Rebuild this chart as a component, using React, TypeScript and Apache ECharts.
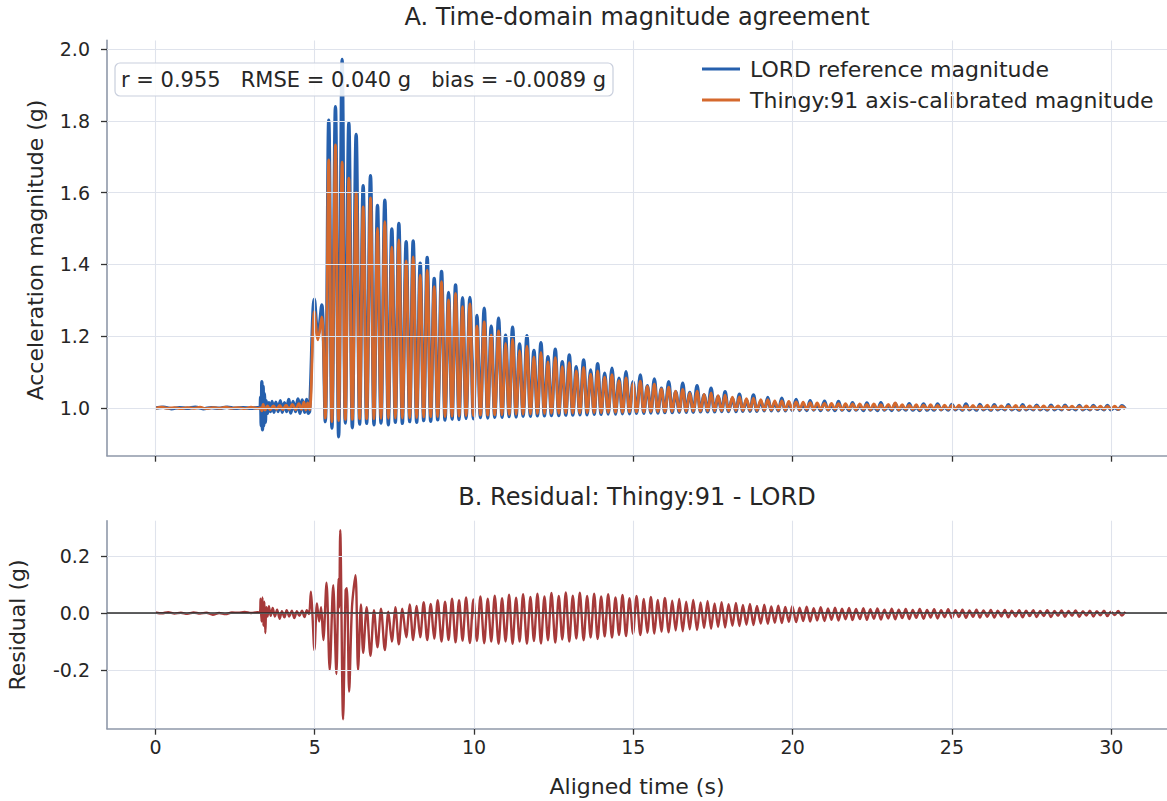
import React, { useEffect, useRef } from "react";
import * as echarts from "echarts";

// ---------------- data ----------------
const xTicks = [0, 5, 10, 15, 20, 25, 30];
const topTicks = [1.0, 1.2, 1.4, 1.6, 1.8, 2.0];
const botTicks = [-0.2, 0.0, 0.2];

const seriesNames = ["LORD reference magnitude", "Thingy:91 axis-calibrated magnitude"];
const statsText = "r = 0.955   RMSE = 0.040 g   bias = -0.0089 g";

// quiet period + first disturbance (t, g)
const lordPre: number[][] = [
  [0, 1.0], [0.25, 1.002], [0.5, 0.998], [0.75, 1.001], [1.0, 0.999], [1.25, 1.002], [1.5, 0.998],
  [1.75, 1.001], [2.0, 0.999], [2.25, 1.002], [2.5, 0.999], [2.75, 1.001], [3.0, 0.999], [3.2, 1.001],
  [3.28, 1.0], [3.3, 1.03], [3.32, 0.95], [3.34, 1.073], [3.36, 0.939], [3.38, 1.06], [3.4, 0.95],
  [3.42, 1.04], [3.45, 0.96], [3.48, 1.02], [3.52, 0.985], [3.56, 1.015], [3.61, 0.99], [3.66, 1.018],
  [3.72, 0.988], [3.78, 1.016], [3.85, 0.99], [3.92, 1.02], [3.98, 0.988], [4.05, 1.015], [4.12, 0.99],
  [4.18, 1.024], [4.25, 0.986], [4.32, 1.018], [4.4, 0.99], [4.47, 1.025], [4.54, 0.985], [4.61, 1.022],
  [4.68, 0.988], [4.74, 1.024], [4.8, 0.985], [4.84, 0.992],
];
const thingyPre: number[][] = [
  [0, 0.999], [0.2, 1.002], [0.4, 0.999], [0.6, 1.001], [0.8, 0.998], [1.0, 1.001], [1.2, 0.999],
  [1.4, 1.002], [1.6, 0.998], [1.8, 1.001], [2.0, 0.999], [2.2, 1.002], [2.4, 0.999], [2.6, 1.001],
  [2.8, 0.998], [3.0, 1.002], [3.2, 0.999], [3.3, 1.0], [3.34, 0.992], [3.38, 1.01], [3.44, 0.994],
  [3.52, 1.006], [3.6, 0.995], [3.7, 1.006], [3.8, 0.996], [3.9, 1.007], [4.0, 0.995], [4.1, 1.008],
  [4.2, 0.996], [4.3, 1.01], [4.4, 0.995], [4.5, 1.012], [4.58, 0.996], [4.66, 1.016], [4.72, 0.994],
  [4.78, 1.014], [4.84, 0.995],
];

// oscillation: times of the maxima and minima (s)
const peakTimes = [
  4.99, 5.22, 5.44, 5.65, 5.86, 6.07, 6.3, 6.52, 6.75, 6.97,
  7.2, 7.42, 7.64, 7.87, 8.09, 8.31, 8.53, 8.75, 8.98, 9.2,
  9.42, 9.64, 9.87, 10.09, 10.32, 10.54, 10.77, 10.99, 11.21, 11.43,
  11.66, 11.88, 12.1, 12.32, 12.55, 12.77, 12.99, 13.21, 13.44, 13.66,
  13.88, 14.1, 14.33, 14.55, 14.77, 14.99, 15.22, 15.44, 15.66, 15.88,
  16.11, 16.33, 16.55, 16.77, 17.0, 17.22, 17.44, 17.66, 17.88, 18.11,
  18.33, 18.55, 18.77, 19.0, 19.22, 19.44, 19.66, 19.88, 20.11, 20.33,
  20.55, 20.77, 21.0, 21.22, 21.44, 21.66, 21.88, 22.11, 22.33, 22.55,
  22.77, 23.0, 23.22, 23.44, 23.66, 23.88, 24.11, 24.33, 24.55, 24.77,
  25.0, 25.22, 25.44, 25.66, 25.88, 26.11, 26.33, 26.55, 26.77, 27.0,
  27.22, 27.44, 27.66, 27.88, 28.11, 28.33, 28.55, 28.77, 29.0, 29.22,
  29.44, 29.66, 29.88, 30.11, 30.33,
];
const troughTimes = [
  5.1, 5.33, 5.54, 5.75, 5.96, 6.18, 6.41, 6.63, 6.86, 7.08,
  7.31, 7.53, 7.75, 7.98, 8.2, 8.42, 8.64, 8.86, 9.09, 9.31,
  9.53, 9.75, 9.98, 10.2, 10.43, 10.65, 10.88, 11.1, 11.32, 11.54,
  11.77, 11.99, 12.21, 12.43, 12.66, 12.88, 13.1, 13.32, 13.55, 13.77,
  13.99, 14.21, 14.44, 14.66, 14.88, 15.1, 15.33, 15.55, 15.77, 15.99,
  16.22, 16.44, 16.66, 16.88, 17.11, 17.33, 17.55, 17.77, 17.99, 18.22,
  18.44, 18.66, 18.88, 19.11, 19.33, 19.55, 19.77, 19.99, 20.22, 20.44,
  20.66, 20.88, 21.11, 21.33, 21.55, 21.77, 21.99, 22.22, 22.44, 22.66,
  22.88, 23.11, 23.33, 23.55, 23.77, 23.99, 24.22, 24.44, 24.66, 24.88,
  25.11, 25.33, 25.55, 25.77, 25.99, 26.22, 26.44, 26.66, 26.88, 27.11,
  27.33, 27.55, 27.77, 27.99, 28.22, 28.44, 28.66, 28.88, 29.11, 29.33,
  29.55, 29.77, 29.99, 30.22, 30.44,
];
const lordPeaks = [
  1.303, 1.287, 1.802, 1.839, 1.971, 1.795, 1.762, 1.619, 1.647, 1.564,
  1.579, 1.499, 1.514, 1.463, 1.465, 1.403, 1.419, 1.361, 1.38, 1.322,
  1.343, 1.307, 1.308, 1.258, 1.278, 1.228, 1.25, 1.203, 1.225, 1.178,
  1.201, 1.16, 1.182, 1.143, 1.164, 1.129, 1.148, 1.115, 1.134, 1.106,
  1.123, 1.097, 1.111, 1.083, 1.101, 1.073, 1.092, 1.062, 1.081, 1.055,
  1.073, 1.045, 1.069, 1.043, 1.062, 1.036, 1.055, 1.032, 1.045, 1.027,
  1.038, 1.022, 1.036, 1.018, 1.029, 1.014, 1.027, 1.012, 1.024, 1.008,
  1.02, 1.006, 1.019, 1.005, 1.018, 1.004, 1.015, 1.004, 1.014, 1.003,
  1.015, 1.003, 1.012, 1.003, 1.012, 1.002, 1.011, 1.002, 1.011, 1.002,
  1.01, 1.002, 1.011, 1.002, 1.01, 1.001, 1.009, 1.001, 1.009, 1.001,
  1.009, 1.001, 1.008, 1.001, 1.008, 1.001, 1.008, 1.001, 1.007, 1.001,
  1.007, 1.001, 1.007, 1.001, 1.006,
];
const lordTroughs = [
  1.2, 0.962, 0.944, 0.92, 0.958, 0.945, 0.955, 0.957, 0.953, 0.958,
  0.953, 0.96, 0.957, 0.962, 0.96, 0.965, 0.963, 0.967, 0.966, 0.969,
  0.968, 0.971, 0.97, 0.973, 0.972, 0.974, 0.974, 0.976, 0.975, 0.977,
  0.977, 0.978, 0.978, 0.979, 0.979, 0.98, 0.98, 0.981, 0.981, 0.982,
  0.982, 0.983, 0.983, 0.984, 0.984, 0.985, 0.985, 0.986, 0.986, 0.987,
  0.987, 0.988, 0.988, 0.988, 0.989, 0.989, 0.989, 0.99, 0.99, 0.99,
  0.991, 0.991, 0.991, 0.992, 0.992, 0.992, 0.992, 0.993, 0.993, 0.993,
  0.994, 0.993, 0.994, 0.993, 0.994, 0.993, 0.994, 0.993, 0.994, 0.993,
  0.994, 0.993, 0.994, 0.994, 0.994, 0.993, 0.994, 0.994, 0.995, 0.994,
  0.995, 0.994, 0.995, 0.994, 0.995, 0.994, 0.995, 0.995, 0.995, 0.994,
  0.995, 0.995, 0.995, 0.994, 0.995, 0.995, 0.996, 0.995, 0.995, 0.995,
  0.996, 0.995, 0.995, 0.996, 0.998,
];
const thingyPeaks = [
  1.268, 1.254, 1.691, 1.733, 1.685, 1.64, 1.6, 1.56, 1.585, 1.5,
  1.519, 1.448, 1.468, 1.41, 1.421, 1.37, 1.384, 1.338, 1.352, 1.301,
  1.319, 1.282, 1.29, 1.228, 1.24, 1.203, 1.215, 1.18, 1.192, 1.16,
  1.172, 1.142, 1.155, 1.128, 1.14, 1.115, 1.126, 1.103, 1.113, 1.094,
  1.103, 1.086, 1.093, 1.076, 1.084, 1.068, 1.075, 1.06, 1.066, 1.053,
  1.058, 1.047, 1.052, 1.042, 1.047, 1.038, 1.042, 1.034, 1.036, 1.03,
  1.031, 1.026, 1.027, 1.023, 1.023, 1.02, 1.02, 1.018, 1.017, 1.016,
  1.015, 1.014, 1.013, 1.013, 1.012, 1.012, 1.011, 1.011, 1.01, 1.011,
  1.009, 1.01, 1.014, 1.009, 1.008, 1.009, 1.008, 1.009, 1.007, 1.008,
  1.007, 1.008, 1.006, 1.007, 1.006, 1.008, 1.006, 1.006, 1.005, 1.007,
  1.005, 1.006, 1.005, 1.006, 1.004, 1.006, 1.005, 1.005, 1.004, 1.006,
  1.004, 1.005, 1.004, 1.005, 1.004,
];
const thingyTroughs = [
  1.19, 0.972, 0.962, 0.965, 0.968, 0.968, 0.97, 0.97, 0.97, 0.971,
  0.971, 0.972, 0.972, 0.973, 0.973, 0.975, 0.975, 0.976, 0.976, 0.977,
  0.977, 0.979, 0.979, 0.98, 0.98, 0.981, 0.981, 0.982, 0.982, 0.983,
  0.983, 0.984, 0.984, 0.985, 0.985, 0.986, 0.986, 0.986, 0.987, 0.987,
  0.987, 0.988, 0.988, 0.988, 0.989, 0.989, 0.989, 0.99, 0.99, 0.99,
  0.99, 0.991, 0.991, 0.991, 0.991, 0.992, 0.992, 0.992, 0.992, 0.993,
  0.993, 0.993, 0.993, 0.994, 0.994, 0.994, 0.994, 0.994, 0.995, 0.996,
  0.995, 0.996, 0.995, 0.996, 0.995, 0.996, 0.995, 0.996, 0.995, 0.996,
  0.995, 0.996, 0.995, 0.996, 0.996, 0.995, 0.996, 0.996, 0.995, 0.996,
  0.996, 0.995, 0.996, 0.996, 0.996, 0.995, 0.996, 0.996, 0.996, 0.995,
  0.996, 0.996, 0.996, 0.996, 0.997, 0.996, 0.996, 0.997, 0.996, 0.996,
  0.997, 0.996, 0.997, 0.996, 0.998,
];

// residual (Thingy:91 - LORD), quiet period and main event (t, g)
const residPre: number[][] = [
  [0, 0.002], [0.2, -0.001], [0.4, 0.003], [0.6, -0.002], [0.8, 0.001], [1.0, -0.003], [1.2, 0.002],
  [1.4, -0.002], [1.6, 0.001], [1.8, -0.006], [2.0, 0.0], [2.2, -0.004], [2.4, 0.002], [2.6, 0.001],
  [2.8, 0.004], [3.0, 0.0], [3.2, 0.003], [3.28, 0.002], [3.3, 0.05], [3.33, -0.03], [3.36, 0.055],
  [3.39, -0.045], [3.42, 0.04], [3.45, -0.07], [3.48, 0.02], [3.52, -0.012], [3.56, 0.024], [3.62, -0.01],
  [3.68, 0.018], [3.75, -0.012], [3.82, 0.012], [3.9, -0.02], [3.97, 0.006], [4.05, -0.015], [4.12, 0.01],
  [4.2, -0.012], [4.28, 0.008], [4.36, -0.018], [4.44, 0.006], [4.52, -0.01], [4.6, 0.008], [4.68, -0.014],
  [4.75, 0.01], [4.82, -0.004], [4.88, 0.075], [4.93, -0.01], [4.99, -0.13], [5.07, 0.034], [5.14, -0.03],
  [5.2, 0.02], [5.27, -0.095], [5.37, 0.106], [5.47, -0.2], [5.58, 0.098], [5.68, -0.214], [5.75, 0.121],
  [5.77, 0.02], [5.8, 0.291], [5.89, -0.373], [5.97, 0.08], [6.01, 0.087], [6.08, -0.276], [6.17, 0.022],
  [6.28, 0.133], [6.36, -0.2], [6.45, 0.03],
];
// residual cycles from the 8th oscillation on: minima at peakTimes, maxima at troughTimes
const RESID_FIRST_CYCLE = 7;
const residLows = [
  -0.14, -0.15, -0.12, -0.13, -0.1, -0.11, -0.085, -0.095, -0.085, -0.095,
  -0.09, -0.1, -0.095, -0.103, -0.097, -0.105, -0.098, -0.106, -0.1, -0.108,
  -0.1, -0.108, -0.1, -0.108, -0.098, -0.107, -0.096, -0.104, -0.093, -0.1,
  -0.09, -0.096, -0.086, -0.091, -0.082, -0.086, -0.077, -0.081, -0.073, -0.077,
  -0.069, -0.072, -0.065, -0.068, -0.061, -0.064, -0.057, -0.06, -0.053, -0.055,
  -0.049, -0.051, -0.045, -0.046, -0.041, -0.042, -0.037, -0.038, -0.034, -0.035,
  -0.031, -0.032, -0.028, -0.03, -0.026, -0.028, -0.024, -0.026, -0.022, -0.025,
  -0.021, -0.024, -0.02, -0.023, -0.019, -0.022, -0.018, -0.021, -0.017, -0.02,
  -0.016, -0.019, -0.015, -0.018, -0.014, -0.017, -0.013, -0.016, -0.013, -0.016,
  -0.012, -0.015, -0.012, -0.015, -0.011, -0.014, -0.011, -0.014, -0.01, -0.013,
  -0.01, -0.013, -0.009, -0.012, -0.008, -0.011, -0.007, -0.009,
];
const residHighs = [
  0.02, 0.01, 0.015, 0.005, 0.02, 0.015, 0.03, 0.025, 0.038, 0.032,
  0.045, 0.04, 0.05, 0.045, 0.055, 0.048, 0.058, 0.05, 0.061, 0.052,
  0.064, 0.054, 0.066, 0.056, 0.068, 0.058, 0.07, 0.06, 0.072, 0.061,
  0.071, 0.06, 0.068, 0.058, 0.066, 0.055, 0.063, 0.052, 0.06, 0.049,
  0.056, 0.046, 0.053, 0.043, 0.049, 0.04, 0.046, 0.037, 0.042, 0.034,
  0.038, 0.031, 0.035, 0.028, 0.032, 0.025, 0.029, 0.023, 0.026, 0.021,
  0.024, 0.019, 0.022, 0.017, 0.02, 0.016, 0.019, 0.015, 0.018, 0.014,
  0.017, 0.013, 0.016, 0.012, 0.015, 0.012, 0.014, 0.011, 0.014, 0.011,
  0.013, 0.01, 0.013, 0.01, 0.012, 0.009, 0.012, 0.009, 0.011, 0.008,
  0.011, 0.008, 0.01, 0.008, 0.01, 0.007, 0.01, 0.007, 0.009, 0.007,
  0.009, 0.006, 0.008, 0.006, 0.008, 0.005, 0.007, 0.004,
];

// ---------------- build series tables ----------------
function buildMagnitude(pre: number[][], peaks: number[], troughs: number[]) {
  const pts: number[][] = pre.map((p) => [p[0], p[1]]);
  for (let i = 0; i < peakTimes.length; i++) {
    pts.push([peakTimes[i], peaks[i]]);
    pts.push([troughTimes[i], troughs[i]]);
  }
  return pts;
}
function buildResidual() {
  const pts: number[][] = residPre.map((p) => [p[0], p[1]]);
  for (let k = 0; k < residLows.length; k++) {
    const i = k + RESID_FIRST_CYCLE;
    pts.push([peakTimes[i], residLows[k]]);
    pts.push([troughTimes[i], residHighs[k]]);
  }
  return pts;
}

const FONT = "DejaVu Sans";
const TEXT = "#262626";
const GRIDLINE = "#dfe3ec";
const SPINE = "#8f98a9";
const BLUE = "#2660ad";
const ORANGE = "#d5692d";
const RED = "#a63a3a";

const X_MIN = -1.52, X_MAX = 31.75;
const TOP_MIN = 0.867, TOP_MAX = 2.024;
const BOT_MIN = -0.406, BOT_MAX = 0.324;

function gridSeries(xi: number, yMin: number, yTicks: number[]) {
  return {
    type: "line",
    xAxisIndex: xi,
    yAxisIndex: xi,
    data: [[X_MIN, yMin]],
    showSymbol: false,
    lineStyle: { width: 0, opacity: 0 },
    silent: true,
    z: 1,
    markLine: {
      silent: true,
      symbol: ["none", "none"],
      label: { show: false },
      emphasis: { disabled: true },
      lineStyle: { color: GRIDLINE, width: 1.1, type: "solid" },
      data: [
        ...xTicks.map((v) => ({ xAxis: v })),
        ...yTicks.map((v) => ({ yAxis: v })),
      ],
    },
  };
}

function xAxisCfg(gridIndex: number, showLabels: boolean) {
  return {
    type: "value",
    gridIndex,
    min: X_MIN,
    max: X_MAX,
    axisLine: { show: true, onZero: false, lineStyle: { color: SPINE, width: 1.6 } },
    axisTick: { show: true, customValues: xTicks, length: 6, lineStyle: { color: "#333", width: 1.3 } },
    axisLabel: {
      show: showLabels,
      customValues: xTicks,
      formatter: (v: number) => String(v),
      fontSize: 19,
      fontFamily: FONT,
      color: TEXT,
      margin: 9,
    },
    splitLine: { show: false },
  };
}
function yAxisCfg(gridIndex: number, min: number, max: number, ticks: number[]) {
  return {
    type: "value",
    gridIndex,
    min,
    max,
    axisLine: { show: true, onZero: false, lineStyle: { color: SPINE, width: 1.6 } },
    axisTick: { show: true, customValues: ticks, length: 6, lineStyle: { color: "#333", width: 1.3 } },
    axisLabel: {
      show: true,
      customValues: ticks,
      formatter: (v: number) => v.toFixed(1),
      fontSize: 19,
      fontFamily: FONT,
      color: TEXT,
      margin: 17,
    },
    splitLine: { show: false },
  };
}

export default function App() {
  const ref = useRef<HTMLDivElement>(null);
  useEffect(() => {
    if (!ref.current) return;
    const chart = echarts.init(ref.current, undefined, { renderer: "svg" });
    const option: any = {
      animation: false,
      backgroundColor: "#ffffff",
      grid: [
        { left: 107, top: 40.4, width: 1060, height: 415.3 },
        { left: 107, top: 520.7, width: 1060, height: 208 },
      ],
      xAxis: [xAxisCfg(0, false), xAxisCfg(1, true)],
      yAxis: [yAxisCfg(0, TOP_MIN, TOP_MAX, topTicks), yAxisCfg(1, BOT_MIN, BOT_MAX, botTicks)],
      legend: {
        data: seriesNames,
        orient: "vertical",
        left: 697,
        top: 53,
        itemWidth: 38,
        itemHeight: 3,
        itemGap: 9,
        icon: "rect",
        selectedMode: false,
        textStyle: { fontSize: 22, fontFamily: FONT, color: TEXT, lineHeight: 22, padding: [0, 0, 0, 5] },
      },
      series: [
        gridSeries(0, TOP_MIN, topTicks),
        gridSeries(1, BOT_MIN, botTicks),
        {
          name: seriesNames[0],
          type: "line",
          xAxisIndex: 0,
          yAxisIndex: 0,
          data: buildMagnitude(lordPre, lordPeaks, lordTroughs),
          showSymbol: false,
          smooth: 0.35,
          color: BLUE,
          lineStyle: { color: BLUE, width: 3.4 },
          z: 3,
        },
        {
          name: seriesNames[1],
          type: "line",
          xAxisIndex: 0,
          yAxisIndex: 0,
          data: buildMagnitude(thingyPre, thingyPeaks, thingyTroughs),
          showSymbol: false,
          smooth: 0.35,
          color: ORANGE,
          lineStyle: { color: ORANGE, width: 2.8 },
          z: 4,
        },
        {
          name: "Residual",
          type: "line",
          xAxisIndex: 1,
          yAxisIndex: 1,
          data: buildResidual(),
          showSymbol: false,
          smooth: 0.3,
          color: RED,
          lineStyle: { color: RED, width: 2.4 },
          z: 3,
          markLine: {
            silent: true,
            symbol: ["none", "none"],
            label: { show: false },
            emphasis: { disabled: true },
            lineStyle: { color: "#2b2b2b", width: 1.5, type: "solid" },
            data: [{ yAxis: 0 }],
          },
        },
      ],
      graphic: [
        {
          type: "text",
          x: 637,
          y: 17,
          style: { text: "A. Time-domain magnitude agreement", fontSize: 24, fontFamily: FONT, fill: TEXT, align: "center", verticalAlign: "middle" },
        },
        {
          type: "text",
          x: 637,
          y: 497,
          style: { text: "B. Residual: Thingy:91 - LORD", fontSize: 24, fontFamily: FONT, fill: TEXT, align: "center", verticalAlign: "middle" },
        },
        {
          type: "text",
          x: 637,
          y: 786,
          style: { text: "Aligned time (s)", fontSize: 22, fontFamily: FONT, fill: TEXT, align: "center", verticalAlign: "middle" },
        },
        {
          type: "text",
          x: 35,
          y: 250,
          rotation: Math.PI / 2,
          style: { text: "Acceleration magnitude (g)", fontSize: 22, fontFamily: FONT, fill: TEXT, align: "center", verticalAlign: "middle" },
        },
        {
          type: "text",
          x: 17,
          y: 625,
          rotation: Math.PI / 2,
          style: { text: "Residual (g)", fontSize: 22, fontFamily: FONT, fill: TEXT, align: "center", verticalAlign: "middle" },
        },
        {
          type: "rect",
          z: 10,
          shape: { x: 115, y: 63, width: 498, height: 33, r: 5 },
          style: { fill: "rgba(255,255,255,0.88)", stroke: "#c9cfdd", lineWidth: 1.2 },
        },
        {
          type: "text",
          z: 11,
          x: 121,
          y: 80,
          style: { text: statsText, fontSize: 21, fontFamily: FONT, fill: TEXT, align: "left", verticalAlign: "middle", whiteSpace: "pre" },
        },
      ],
    };
    chart.setOption(option);
    return () => chart.dispose();
  }, []);
  return (
    <div
      ref={ref}
      style={{ position: "absolute", left: 0, top: 0, width: 1167, height: 801, background: "#fff" }}
    />
  );
}
